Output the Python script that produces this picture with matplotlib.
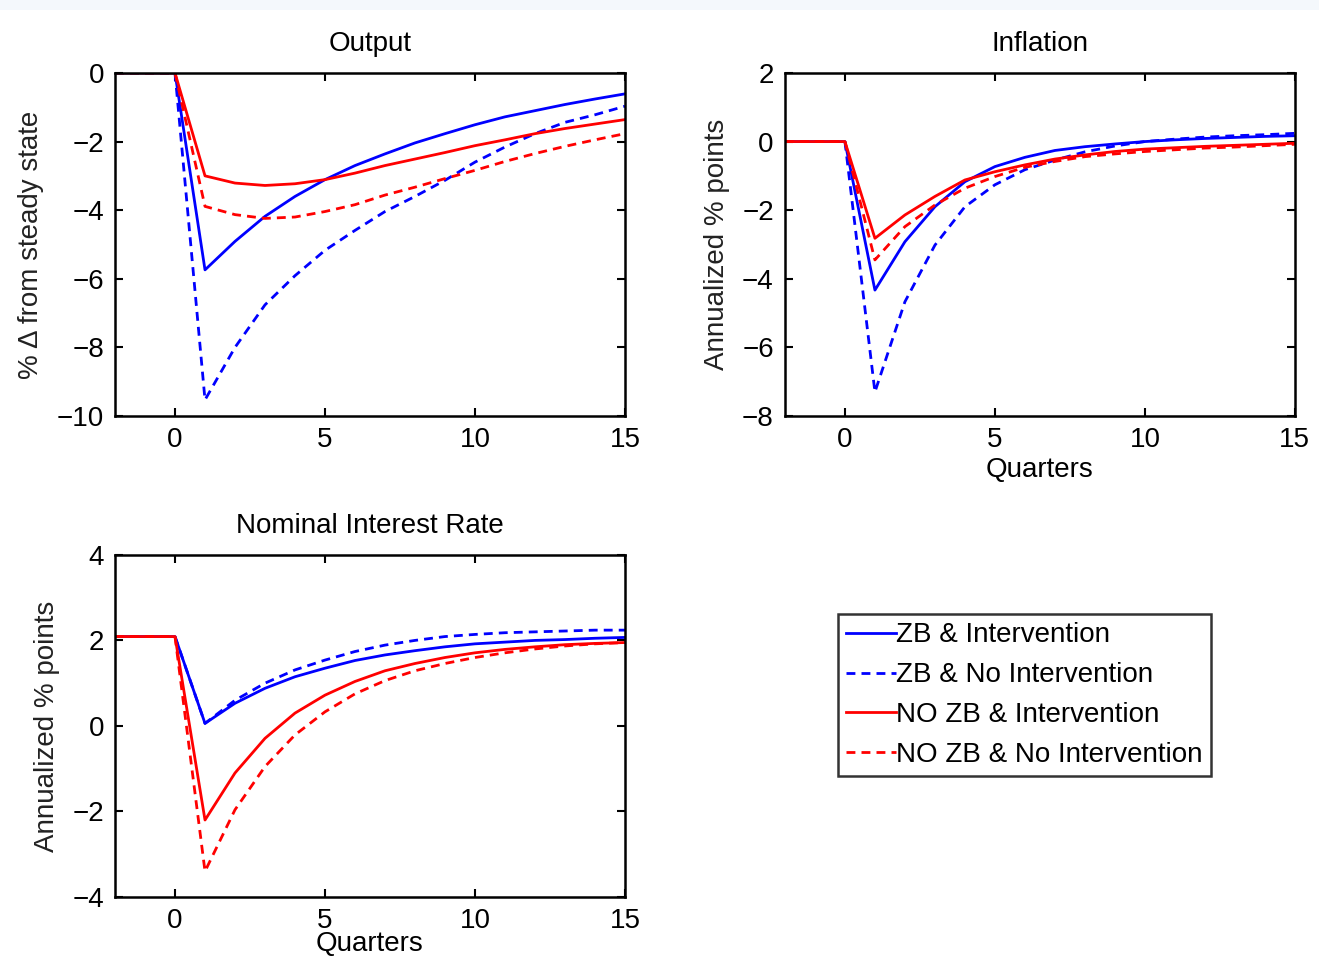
import numpy as np
import matplotlib.pyplot as plt
from matplotlib.patches import Rectangle

plt.rcParams['font.family'] = ['Liberation Sans', 'DejaVu Sans']

quarters = [-2, -1, 0, 1, 2, 3, 4, 5, 6, 7, 8, 9, 10, 11, 12, 13, 14, 15]

labels = ['ZB & Intervention', 'ZB & No Intervention',
          'NO ZB & Intervention', 'NO ZB & No Intervention']

# Output, % deviation from steady state
output_zb_int = [0, 0, 0, -5.74, -4.91, -4.18, -3.60, -3.11, -2.70, -2.36, -2.04, -1.77, -1.51, -1.28, -1.10, -0.92, -0.76, -0.61]
output_zb_noint = [0, 0, 0, -9.53, -8.00, -6.76, -5.91, -5.17, -4.59, -4.04, -3.60, -3.13, -2.60, -2.16, -1.77, -1.44, -1.22, -0.97]
output_nozb_int = [0, 0, 0, -3.00, -3.21, -3.28, -3.23, -3.11, -2.92, -2.70, -2.51, -2.32, -2.12, -1.95, -1.77, -1.62, -1.49, -1.36]
output_nozb_noint = [0, 0, 0, -3.89, -4.13, -4.24, -4.20, -4.04, -3.84, -3.56, -3.33, -3.08, -2.84, -2.58, -2.35, -2.14, -1.95, -1.77]

# Inflation, annualized % points
infl_zb_int = [0, 0, 0, -4.33, -2.92, -1.90, -1.17, -0.73, -0.46, -0.26, -0.15, -0.07, 0.00, 0.05, 0.09, 0.12, 0.15, 0.17]
infl_zb_noint = [0, 0, 0, -7.30, -4.67, -3.02, -1.90, -1.26, -0.82, -0.54, -0.30, -0.13, 0.00, 0.07, 0.13, 0.17, 0.20, 0.24]
infl_nozb_int = [0, 0, 0, -2.82, -2.14, -1.60, -1.12, -0.88, -0.68, -0.51, -0.39, -0.29, -0.22, -0.18, -0.14, -0.11, -0.08, -0.05]
infl_nozb_noint = [0, 0, 0, -3.45, -2.48, -1.85, -1.36, -1.02, -0.75, -0.58, -0.44, -0.36, -0.29, -0.24, -0.19, -0.16, -0.12, -0.08]

# Nominal interest rate, annualized % points
rate_zb_int = [2.09, 2.09, 2.09, 0.06, 0.53, 0.88, 1.15, 1.35, 1.53, 1.66, 1.76, 1.85, 1.92, 1.96, 2.00, 2.02, 2.05, 2.07]
rate_zb_noint = [2.09, 2.09, 2.09, 0.06, 0.60, 1.00, 1.31, 1.54, 1.74, 1.89, 2.00, 2.09, 2.14, 2.18, 2.20, 2.22, 2.24, 2.24]
rate_nozb_int = [2.09, 2.09, 2.09, -2.20, -1.10, -0.29, 0.30, 0.72, 1.04, 1.29, 1.46, 1.60, 1.71, 1.79, 1.85, 1.90, 1.93, 1.95]
rate_nozb_noint = [2.09, 2.09, 2.09, -3.40, -1.96, -0.95, -0.21, 0.33, 0.75, 1.06, 1.29, 1.46, 1.60, 1.71, 1.80, 1.87, 1.92, 1.95]

colors = ['#0000ff', '#0000ff', '#ff0000', '#ff0000']
dash = (0, (3.2, 2.2))
styles = ['-', dash, '-', dash]

fs = 20

fig = plt.figure(figsize=(13.19, 9.61), dpi=100)
# light strip along the top edge
fig.patches.append(Rectangle((0, 1 - 10 / 961), 1, 10 / 961, transform=fig.transFigure,
                             facecolor='#f4f8fc', edgecolor='none', zorder=0))

ax1 = fig.add_axes([0.0872, 0.5671, 0.3866, 0.357])
ax2 = fig.add_axes([0.5951, 0.5671, 0.3866, 0.357])
ax3 = fig.add_axes([0.0872, 0.0666, 0.3866, 0.356])

panels = [
    (ax1, [output_zb_int, output_zb_noint, output_nozb_int, output_nozb_noint],
     'Output', '% \u0394 from steady state', None, 3, (-10, 0), [-10, -8, -6, -4, -2, 0]),
    (ax2, [infl_zb_int, infl_zb_noint, infl_nozb_int, infl_nozb_noint],
     'Inflation', 'Annualized % points', 'Quarters', 3, (-8, 2), [-8, -6, -4, -2, 0, 2]),
    (ax3, [rate_zb_int, rate_zb_noint, rate_nozb_int, rate_nozb_noint],
     'Nominal Interest Rate', 'Annualized % points', 'Quarters', -2, (-4, 4), [-4, -2, 0, 2, 4]),
]

handles = []
for ax, series, title, ylab, xlab, xpad, ylim, yticks in panels:
    hs = []
    for s, c, ls, lab in zip(series, colors, styles, labels):
        h, = ax.plot(quarters, s, color=c, linestyle=ls, linewidth=2, label=lab)
        hs.append(h)
    handles = hs
    ax.set_xlim(-2, 15)
    ax.set_ylim(*ylim)
    ax.set_xticks([0, 5, 10, 15])
    ax.set_yticks(yticks)
    ax.set_title(title, fontsize=fs, pad=16)
    ax.set_ylabel(ylab, fontsize=fs, labelpad=9, color='#222222')
    if xlab:
        ax.set_xlabel(xlab, fontsize=fs, labelpad=xpad)
    ax.tick_params(direction='in', top=True, right=True, length=6, width=1.5,
                   labelsize=fs, pad=8)
    for sp in ax.spines.values():
        sp.set_linewidth(1.8)

leg = fig.legend(handles, labels, loc='upper left', bbox_to_anchor=(0.6353, 0.361),
                 fontsize=fs, frameon=True, fancybox=False, borderpad=0.3,
                 handlelength=1.8, handletextpad=0.0, labelspacing=0.5,
                 borderaxespad=0)
leg.get_frame().set_edgecolor('black')
leg.get_frame().set_linewidth(1.8)

fig.savefig('out.png', dpi=100)
